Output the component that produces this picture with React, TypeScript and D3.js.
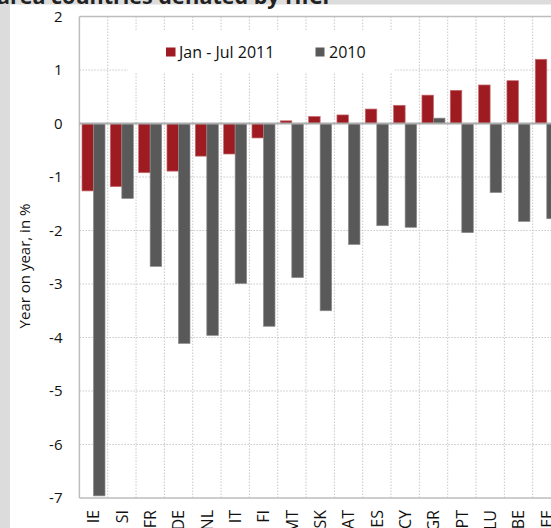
import React from "react";
import * as d3 from "d3";

const categories = ["IE", "SI", "FR", "DE", "NL", "IT", "FI", "MT", "SK", "AT", "ES", "CY", "GR", "PT", "LU", "BE", "EE"];
const jan2011 = [-1.26, -1.18, -0.92, -0.89, -0.61, -0.57, -0.27, 0.05, 0.13, 0.16, 0.27, 0.34, 0.53, 0.62, 0.72, 0.8, 1.2];
const y2010 = [-6.96, -1.4, -2.67, -4.11, -3.96, -2.99, -3.79, -2.88, -3.5, -2.26, -1.91, -1.94, 0.1, -2.04, -1.29, -1.83, -1.78];
const seriesNames = ["Jan - Jul 2011", "2010"];
const yTicks = [2, 1, 0, -1, -2, -3, -4, -5, -6, -7];
const title = "area countries deflated by HICP";
const yTitle = "Year on year, in %";

const W = 551;
const H = 528;
const RED = "#9d1b21";
const GRAY = "#595959";
const FONT = "'Open Sans', sans-serif";

export default function App() {
  const left = 79.4;
  const step = 28.33;
  const x0 = d3.scaleBand<string>().domain(categories).range([left, left + step * categories.length]).padding(0);
  const x1 = d3.scaleBand<string>().domain(seriesNames).range([2.6, 25.6]).padding(0);
  const y = d3.scaleLinear().domain([-7, 2]).range([498, 16.5]);
  const top = y(2);
  const bottom = y(-7);
  const right = W + 20;
  const series = [
    { name: seriesNames[0], values: jan2011, fill: RED, stroke: "#c46a6e" },
    { name: seriesNames[1], values: y2010, fill: GRAY, stroke: "#8a8a8a" },
  ];
  const bandEdges = categories.slice(1).map((c) => x0(c)!);

  return (
    <svg width={W} height={H} style={{ position: "absolute", left: 0, top: 0, fontFamily: FONT }}>
      <rect x={0} y={0} width={W} height={H} fill="#ffffff" />
      <rect x={0} y={0} width={W} height={4.5} fill="#dcdcdd" />
      <rect x={0} y={0} width={10} height={H} fill="#dcdcdd" />
      <text x={-3} y={4} fontSize={21.5} fontWeight="bold" fill="#222">{title}</text>

      {/* grid */}
      {yTicks.filter((t) => t !== 0 && t !== 2 && t !== -7).map((t) => (
        <line key={"h" + t} x1={left} x2={right} y1={y(t)} y2={y(t)} stroke="#c8c8c8" strokeWidth={1} strokeDasharray="1.5 1.5" />
      ))}
      {bandEdges.map((xv, i) => (
        <line key={"v" + i} x1={xv} x2={xv} y1={top} y2={bottom} stroke="#c8c8c8" strokeWidth={1} strokeDasharray="1.5 1.5" />
      ))}

      {/* legend background */}
      <rect x={128} y={30} width={267} height={42.5} fill="#ffffff" />

      {/* bars */}
      {series.map((s) =>
        s.values.map((v, i) => {
          const xv = x0(categories[i])! + x1(s.name)!;
          const y0 = y(0);
          const yv = y(v);
          return (
            <rect
              key={s.name + i}
              x={xv}
              y={Math.min(y0, yv)}
              width={x1.bandwidth()}
              height={Math.abs(yv - y0)}
              fill={s.fill}
              stroke={s.stroke}
              strokeWidth={0.7}
            />
          );
        })
      )}

      {/* frame */}
      <line x1={left} x2={right} y1={top} y2={top} stroke="#bdbdbd" strokeWidth={1.5} />
      <line x1={left} x2={left} y1={top} y2={bottom} stroke="#bdbdbd" strokeWidth={1.5} />
      <line x1={left} x2={right} y1={bottom} y2={bottom} stroke="#bdbdbd" strokeWidth={1.5} />
      <line x1={left} x2={right} y1={y(0)} y2={y(0)} stroke="#ababab" strokeWidth={2.2} />

      {/* y tick labels */}
      {yTicks.map((t) => (
        <text key={"yt" + t} x={62.5} y={y(t)} dy="0.36em" textAnchor="end" fontSize={15} fill="#111">
          {t}
        </text>
      ))}
      <text transform={`translate(30,${266}) rotate(-90)`} textAnchor="middle" fontSize={15} fill="#111">
        {yTitle}
      </text>

      {/* x labels */}
      {categories.map((c) => (
        <text
          key={"xl" + c}
          transform={`translate(${x0(c)! + step / 2},510) rotate(-90)`}
          textAnchor="end"
          dy="0.36em"
          fontSize={16}
          fill="#111"
        >
          {c}
        </text>
      ))}

      {/* legend */}
      <rect x={166} y={47.5} width={9.5} height={9} fill={RED} />
      <text x={179} y={58} fontSize={16} fill="#111">{seriesNames[0]}</text>
      <rect x={315.5} y={47.5} width={9} height={9} fill={GRAY} />
      <text x={329} y={58} fontSize={16} fill="#111">{seriesNames[1]}</text>
    </svg>
  );
}
